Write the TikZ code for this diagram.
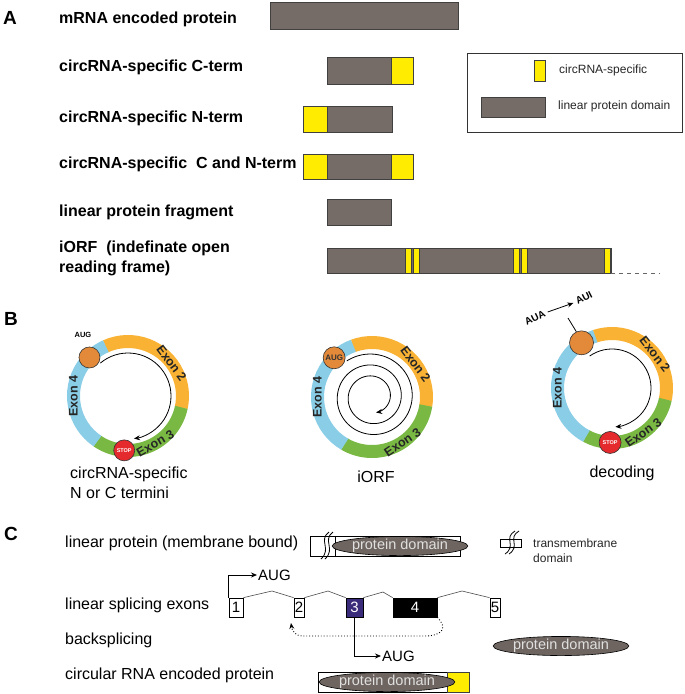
\documentclass[tikz,border=0pt]{standalone}
\usepackage{fontspec}
\setmainfont{Liberation Sans}
\usetikzlibrary{arrows.meta,shapes.geometric}
\definecolor{bargray}{HTML}{766C67}
\definecolor{ylw}{HTML}{FFEC00}
\definecolor{exorange}{HTML}{F9B233}
\definecolor{exgreen}{HTML}{7AB844}
\definecolor{exblue}{HTML}{8ACDE6}
\definecolor{augorange}{HTML}{E38A3A}
\definecolor{stopred}{HTML}{E42A2C}
\definecolor{domgray}{HTML}{6E6560}
\definecolor{purp}{HTML}{3B2B7B}
\begin{document}
\begin{tikzpicture}[x=1pt, y=-1pt,
 bar/.style={draw=black!75, fill=bargray, line width=0.7pt},
 ybox/.style={draw=black!75, fill=ylw, line width=0.7pt},
 labA/.style={anchor=west, inner sep=0pt, font=\fontsize{16}{20}\selectfont\bfseries},
 panel/.style={inner sep=0pt, font=\fontsize{19}{22}\selectfont\bfseries},
 labC/.style={anchor=west, inner sep=0pt, font=\fontsize{16}{19}\selectfont},
 legtxt/.style={anchor=west, inner sep=0pt, font=\fontsize{12}{15}\selectfont, text=black!85},
 ring/.style={line width=13pt},
 exonlab/.style={inner sep=0pt, font=\fontsize{12.5}{14}\selectfont\bfseries, text=black!85},
 tinyarrow/.style={-{Stealth[length=6pt,width=5pt]}, line width=0.8pt},
 startdot/.style={circle, draw=black!80, line width=0.6pt, fill=augorange, minimum size=21pt, inner sep=0pt},
 stopdot/.style={circle, draw=black!80, line width=0.6pt, fill=stopred, minimum size=21pt, inner sep=0pt, text=white, font=\fontsize{5.5}{6}\selectfont\bfseries},
 domell/.style={ellipse, draw=black, line width=0.6pt, fill=domgray, text=white!88!black, inner sep=0pt, font=\fontsize{14.5}{16}\selectfont},
 exbox/.style={draw=black, line width=0.7pt, minimum height=19pt, inner sep=0pt, font=\fontsize{15}{16}\selectfont},
 intron/.style={draw=black!70, line width=0.6pt},
 caption/.style={inner sep=0pt, font=\fontsize{16}{20}\selectfont}
]
\useasboundingbox (0,0) rectangle (685,694);

% ---------------- A ----------------
\node[panel] (pA) at (10,18) {A};
\node[labA] (l1) at (59,19) {mRNA encoded protein};
\draw[bar] (270,2) rectangle (458,29);
\node[labA] (l2) at (59,67) {circRNA-specific C-term};
\draw[bar] (327,57) rectangle (391,84);
\draw[ybox] (391,57) rectangle (413,84);
\node[labA] (l3) at (59,118) {circRNA-specific N-term};
\draw[ybox] (303,106) rectangle (327,132);
\draw[bar] (327,106) rectangle (392,132);
\node[labA] (l4) at (59,164) {circRNA-specific\ \ C and N-term};
\draw[ybox] (303,154) rectangle (327,179);
\draw[bar] (327,154) rectangle (391,179);
\draw[ybox] (391,154) rectangle (413,179);
\node[labA] (l5) at (59,212) {linear protein fragment};
\draw[bar] (327,199) rectangle (391,225);
\node[labA, align=left] (l6) at (59,258) {iORF\ \ (indefinate open\\reading frame)};
\draw[bar] (327,248) rectangle (611,273);
\foreach \a in {405.5,413.5,513,521,604.5}
  \draw[ybox] (\a,248) rectangle ++(6,25);
\draw[dash pattern=on 4pt off 4pt, black!60, line width=0.8pt] (611,273) -- (660,273);

% legend
\draw[line width=0.8pt, black!80] (467,53) rectangle (682,132);
\draw[ybox] (534,60) rectangle (545,81);
\draw[bar] (481,97) rectangle (545,117);
\node[legtxt] (lg1) at (559,70) {circRNA-specific};
\node[legtxt] (lg2) at (558,106) {linear protein domain};

% ---------------- B ----------------
\node[panel] (pB) at (11,319) {B};

% circle 1
\begin{scope}[shift={(128,396)}, yscale=-1]
 \draw[ring, exorange] (114.5:54.5) arc[start angle=114.5, end angle=-12.5, radius=54.5];
 \draw[ring, exgreen] (-12:54.5) arc[start angle=-12, end angle=-124.5, radius=54.5];
 \draw[ring, exblue] (-124:54.5) arc[start angle=-124, end angle=-246, radius=54.5];
 \draw[tinyarrow] (130:43) arc[start angle=130, end angle=-82, radius=43];
 \node[exonlab, rotate=-53] (c1e2) at (37:54.5) {Exon 2};
 \node[exonlab, rotate=30] (c1e3) at (-60:54.5) {Exon 3};
 \node[exonlab, rotate=90] (c1e4) at (180:54.5) {Exon 4};
 \node[startdot] (c1aug) at (135:54.5) {};
 \node[stopdot] (c1stop) at (-94:54.5) {STOP};
\end{scope}
\node[inner sep=0pt, font=\fontsize{7.5}{8}\selectfont\bfseries] (c1auglab) at (83,335) {AUG};
\node[caption, anchor=west, align=left] (cap1) at (70,483) {circRNA-specific\\N or C termini};

% circle 2
\begin{scope}[shift={(372,397)}, yscale=-1]
 \draw[ring, exorange] (110.5:54.5) arc[start angle=110.5, end angle=-9.5, radius=54.5];
 \draw[ring, exgreen] (-9:54.5) arc[start angle=-9, end angle=-120.5, radius=54.5];
 \draw[ring, exblue] (-120:54.5) arc[start angle=-120, end angle=-250, radius=54.5];
 \draw[tinyarrow] plot[domain=0:920, samples=300, smooth, variable=\t]
   ({(44-0.0304*\t)*cos(125-\t)}, {(44-0.0304*\t)*sin(125-\t)});
 \node[exonlab, rotate=-53] (c2e2) at (37:54.5) {Exon 2};
 \node[exonlab, rotate=34] (c2e3) at (-56:54.5) {Exon 3};
 \node[exonlab, rotate=90] (c2e4) at (180:54.5) {Exon 4};
 \node[startdot, minimum size=22pt, font=\fontsize{8}{9}\selectfont\bfseries, text=black!80] (c2aug) at (134:54.5) {AUG};
\end{scope}
\node[caption] (cap2) at (376,477) {iORF};

% circle 3
\begin{scope}[shift={(612,388)}, yscale=-1]
 \draw[ring, exorange] (108.5:54.5) arc[start angle=108.5, end angle=-12.5, radius=54.5];
 \draw[ring, exgreen] (-12:54.5) arc[start angle=-12, end angle=-118.5, radius=54.5];
 \draw[ring, exblue] (-118:54.5) arc[start angle=-118, end angle=-252, radius=54.5];
 \draw[tinyarrow] (125:39) arc[start angle=125, end angle=-85, radius=39];
 \node[exonlab, rotate=-52] (c3e2) at (38:54.5) {Exon 2};
 \node[exonlab, rotate=35] (c3e3) at (-55:54.5) {Exon 3};
 \node[exonlab, rotate=90] (c3e4) at (180:54.5) {Exon 4};
 \node[startdot, minimum size=24pt] (c3dot) at (124:54.5) {};
 \node[stopdot, minimum size=22pt] (c3stop) at (-92:54.5) {STOP};
\end{scope}
\coordinate (c3tick) at (568,318);
\draw[line width=0.8pt] (c3dot.115) -- (c3tick);
\node[rotate=27, inner sep=0pt, font=\fontsize{10}{12}\selectfont\bfseries] (aua) at (535,318) {AUA};
\node[rotate=27, inner sep=0pt, font=\fontsize{10}{12}\selectfont\bfseries] (aui) at (584,298) {AUI};
\draw[tinyarrow, shorten <=3pt, shorten >=3pt] (aua.east) -- (aui.west);
\node[caption] (cap3) at (622,473) {decoding};

% ---------------- C ----------------
\node[panel] (pC) at (11,534) {C};
\node[labC] (lc1) at (65,543) {linear protein (membrane bound)};
\draw[line width=0.8pt] (310,536) rectangle (460,556);
\draw[line width=0.8pt] (335,536) -- (335,556);
\draw[line width=0.8pt] (329,532) .. controls (318,540) and (332,549) .. (321,559);
\draw[line width=0.8pt] (333,532) .. controls (322,540) and (336,549) .. (325,559);
\node[domell, minimum width=110pt, minimum height=19pt] (dom1) at (400,546) {protein domain};

\draw[line width=0.8pt] (500,539) rectangle (521,547);
\draw[line width=0.8pt] (515,531) .. controls (503,538) and (517,546) .. (505,554);
\draw[line width=0.8pt] (519,531) .. controls (507,538) and (521,546) .. (509,554);
\node[legtxt, align=left] (tmlab) at (533,550.5) {transmembrane\\domain};

\node[labC] (lc2) at (65,605) {linear splicing exons};
\node[exbox, minimum width=14pt] (ex1) at (236,607.5) {1};
\node[exbox, minimum width=10pt] (ex2) at (299,607.5) {2};
\node[exbox, minimum width=17pt, fill=purp, text=white] (ex3) at (354.5,607.5) {3};
\node[exbox, minimum width=44pt, fill=black, text=white] (ex4) at (415,607.5) {4};
\node[exbox, minimum width=10pt] (ex5) at (495,607.5) {5};
\draw[intron] (ex1.north east) -- (272,591) -- (ex2.north west);
\draw[intron] (ex2.north east) -- (328,591) -- (ex3.north west);
\draw[intron] (ex3.north east) -- (383,592) -- (ex4.north west);
\draw[intron] (ex4.north east) -- (462,591) -- (ex5.north west);

\node[labC, font=\fontsize{15}{16}\selectfont] (augC1) at (258,575) {AUG};
\draw[tinyarrow, shorten >=1pt] (ex1.north west) |- (augC1.west);
\node[labC, font=\fontsize{15}{16}\selectfont] (augC2) at (382,656) {AUG};
\draw[tinyarrow, shorten >=1pt] (ex3.south) |- (augC2.west);

\draw[dotted, line width=0.9pt, -{Stealth[length=6pt,width=5pt]}] (ex4.south east) .. controls (448,628) and (442,636) .. (425,636) -- (302,636) .. controls (295,636) and (292,630) .. (291,623);

\node[labC] (lc3) at (65,640) {backsplicing};
\node[domell, minimum width=114pt, minimum height=19pt] (dom2) at (561,646) {protein domain};

\node[labC] (lc4) at (65,675) {circular RNA encoded protein};
\draw[line width=0.8pt] (318,672) rectangle (469,692);
\draw[ybox] (447,672) rectangle (469,692);
\node[domell, minimum width=120pt, minimum height=18pt] (dom3) at (387,682) {protein domain};
\end{tikzpicture}
\end{document}
